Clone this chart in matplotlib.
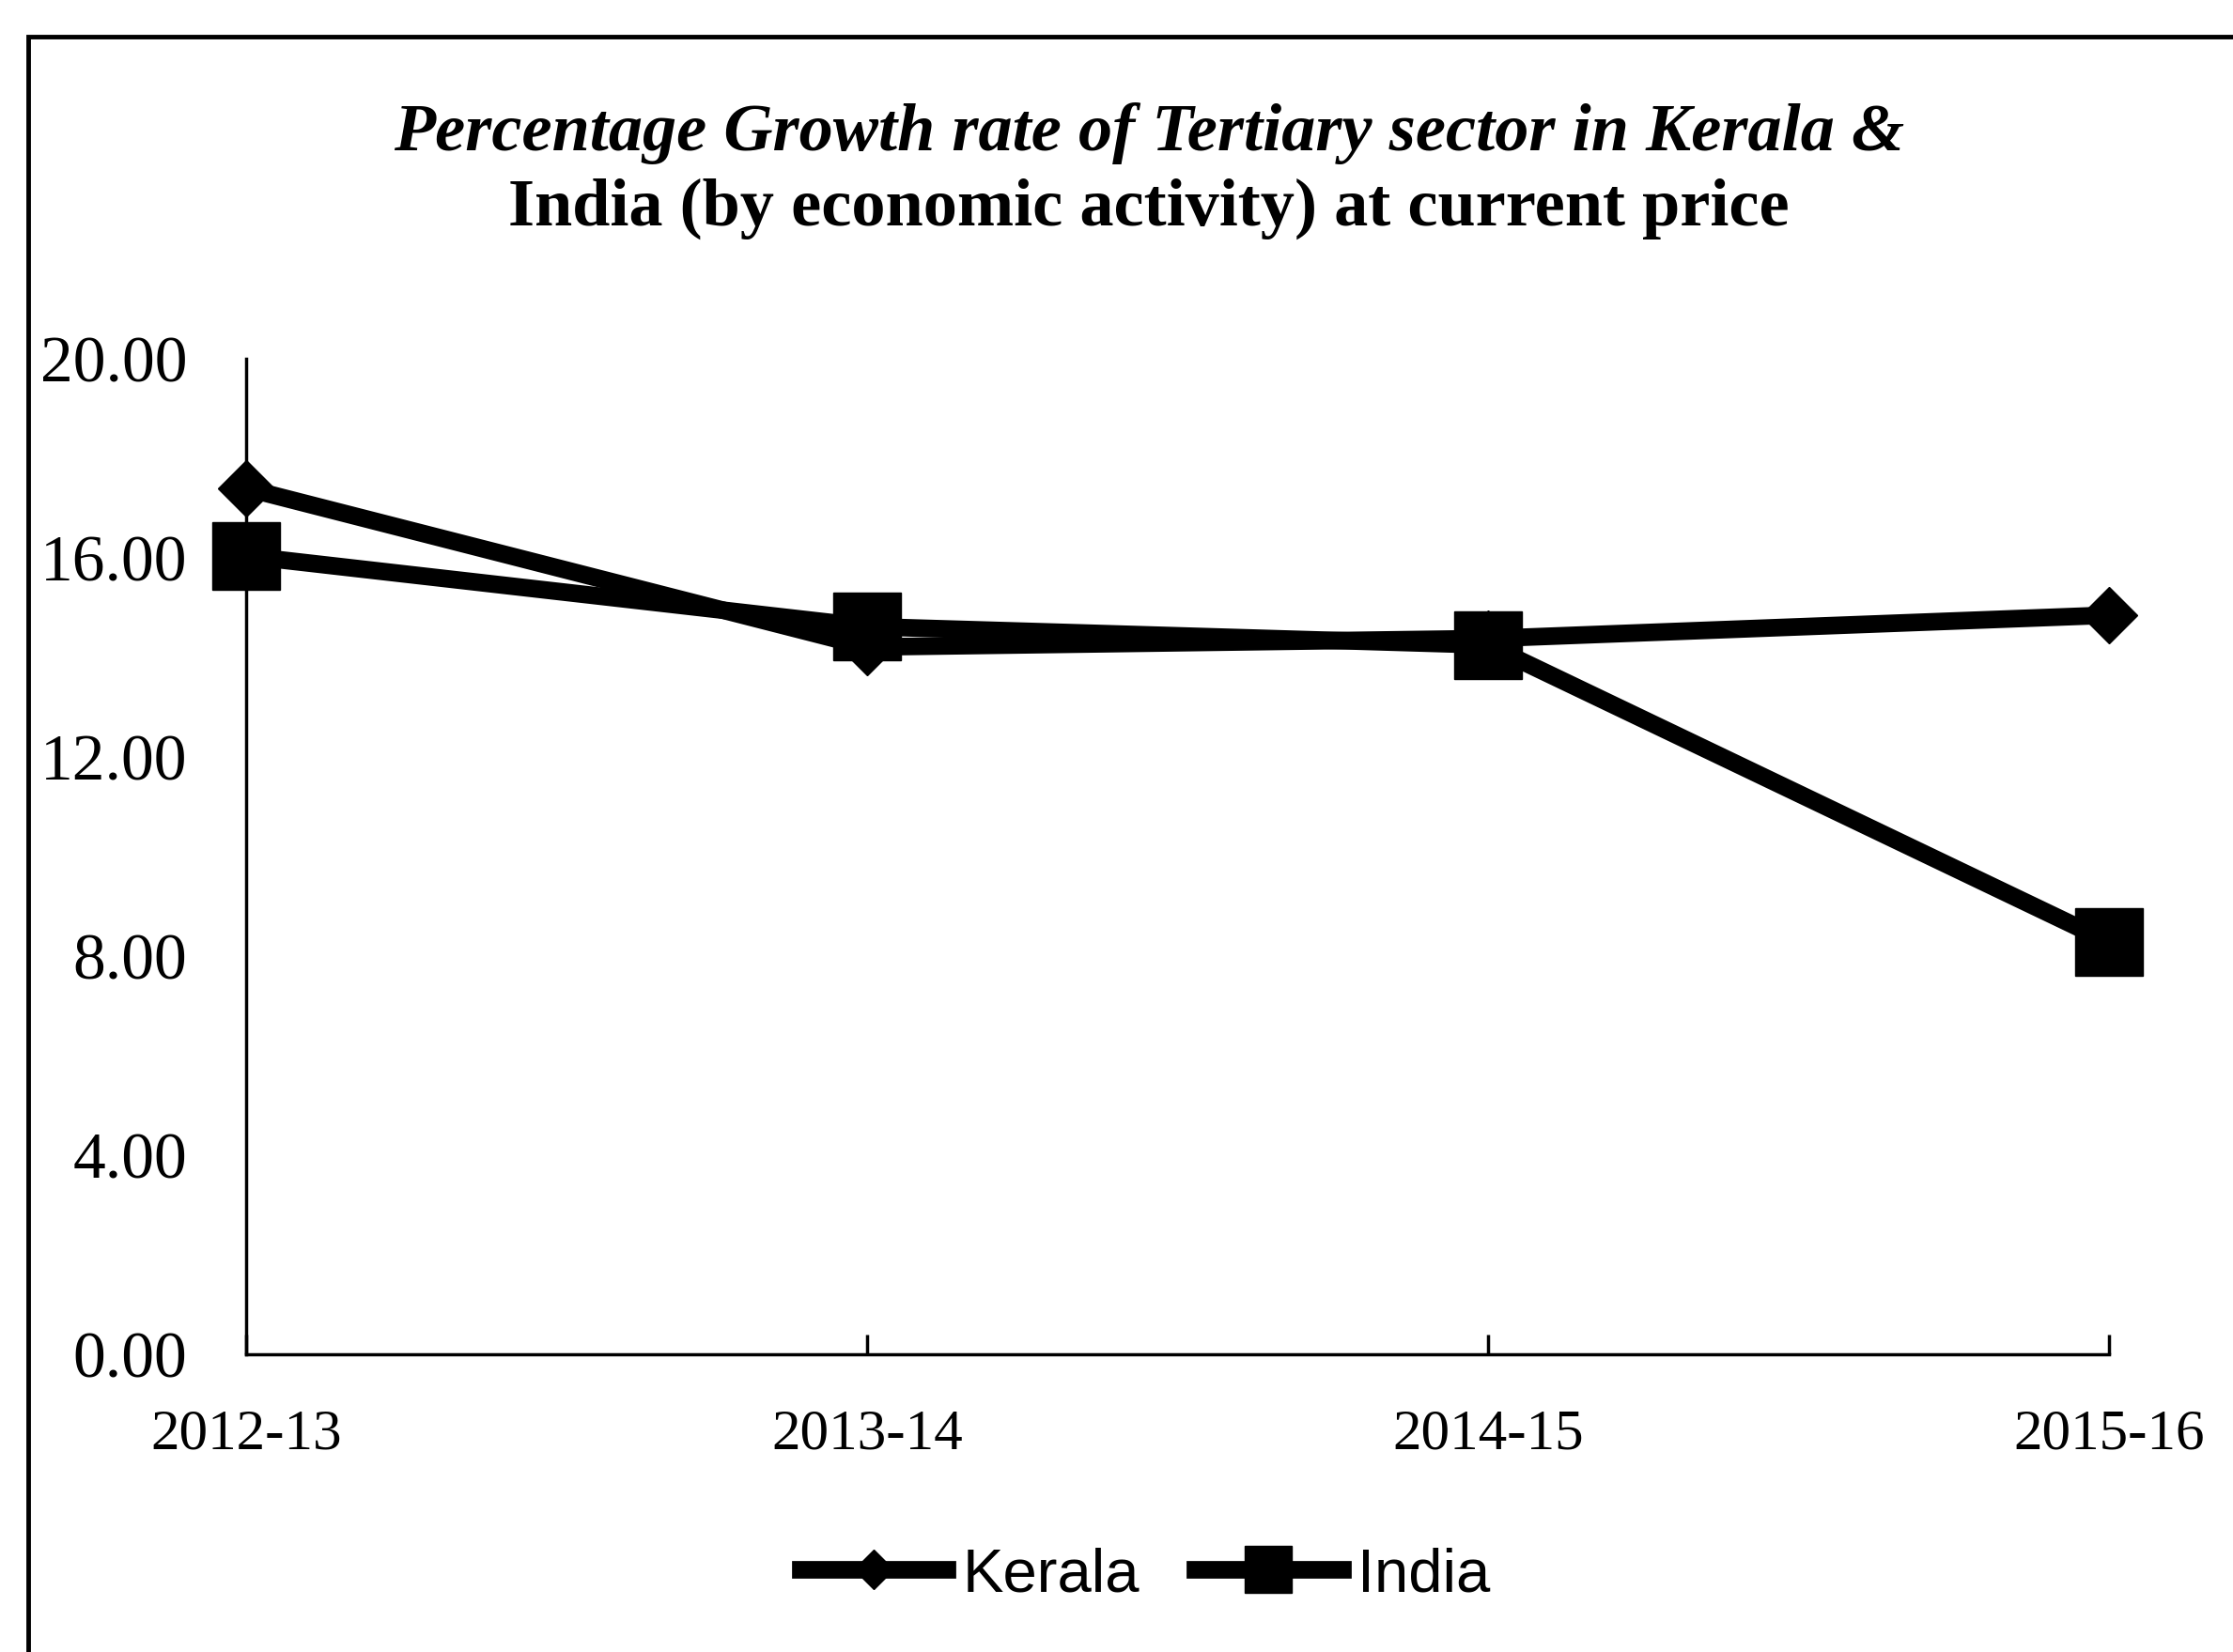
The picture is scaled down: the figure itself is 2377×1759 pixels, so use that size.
import matplotlib.pyplot as plt
from matplotlib.patches import Rectangle
from matplotlib.ticker import FixedLocator

years = ["2012-13", "2013-14", "2014-15", "2015-16"]
kerala = [17.40, 14.21, 14.38, 14.85]
india = [16.04, 14.62, 14.25, 8.28]
yticks = [0, 4, 8, 12, 16, 20]

serif = "Liberation Serif"
sans = "Liberation Sans"

fig = plt.figure(figsize=(23.77, 17.59), dpi=100)
ax = fig.add_axes([0.1102, 0.1802, 0.8343, 0.6026])

x = list(range(len(years)))
ax.plot(x, kerala, color="black", lw=13.5, marker="D", ms=31,
        label="Kerala", clip_on=False, zorder=3)
ax.plot(x, india, color="black", lw=13.5, marker="s", ms=52,
        label="India", clip_on=False, zorder=4)

ax.set_xlim(0, len(years) - 1)
ax.set_ylim(0, 20)
ax.set_xticks(x)
ax.set_xticklabels(years, fontfamily=serif, fontsize=44)
ax.set_yticks(yticks)
ax.set_yticklabels([f"{v:.2f}" for v in yticks], fontfamily=serif, fontsize=50)

ax.tick_params(axis="x", direction="in", length=15, width=2.5, pad=42)
ax.tick_params(axis="y", which="major", length=0, pad=45)
# small tick at the top of the y axis
ax.yaxis.set_minor_locator(FixedLocator([20]))
ax.tick_params(axis="y", which="minor", direction="in", length=16, width=2.5)

for s in ["top", "right"]:
    ax.spines[s].set_visible(False)
for s in ["left", "bottom"]:
    ax.spines[s].set_linewidth(2.5)

# two-line title, first line italic
fig.text(0.5146, 0.909, "Percentage Growth rate of Tertiary sector in Kerala &",
         ha="center", va="baseline", fontfamily=serif, fontsize=52,
         fontweight="bold", fontstyle="italic")
fig.text(0.5146, 0.8636, "India (by economic activity) at current price",
         ha="center", va="baseline", fontfamily=serif, fontsize=52,
         fontweight="bold")

fig.legend(loc="center", bbox_to_anchor=(0.5128, 0.0466), ncol=2,
           frameon=False, prop={"family": sans, "size": 47},
           handlelength=2.4, handletextpad=0.25, columnspacing=0.9,
           markerscale=0.7)

# scanned frame: only left and top edges are inside the picture
fig.patches.append(Rectangle((0.0126, -0.1), 1.2, 1.078, transform=fig.transFigure,
                             fill=False, edgecolor="black", lw=3.5))

fig.savefig("out.png", dpi=100, facecolor="white")
